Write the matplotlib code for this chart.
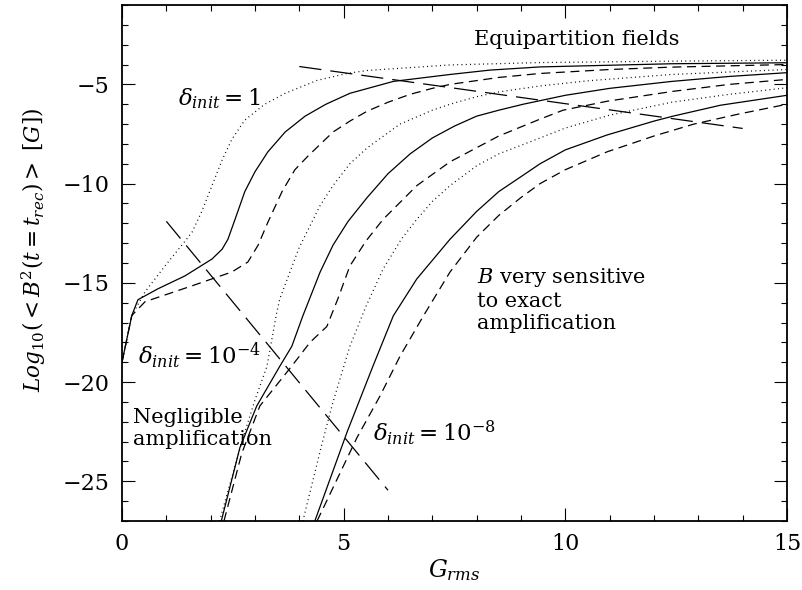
import matplotlib
matplotlib.use("Agg")
import matplotlib.pyplot as plt
from matplotlib.ticker import MultipleLocator

plt.rcParams['font.family'] = ['DejaVu Serif']
plt.rcParams['mathtext.fontset'] = 'dejavuserif'
plt.rcParams['lines.scale_dashes'] = False

# delta_init = 1
x_dot1 = [0, 0.22, 0.52, 0.97, 1.35, 1.58, 1.8, 2.03, 2.26, 2.48, 2.77, 3.22, 3.68, 4.4, 5.07, 5.53, 7.4, 9.43, 12.4, 15]
y_dot1 = [-19, -16.65, -15.45, -14.15, -13.1, -12.45, -11.4, -10.1, -8.8, -7.76, -6.8, -6.0, -5.45, -4.8, -4.45, -4.3, -4.02, -3.9, -3.83, -3.78]
x_sol1 = [0, 0.22, 0.36, 0.81, 1.42, 2.03, 2.26, 2.39, 2.55, 2.77, 3.0, 3.29, 3.68, 4.13, 4.6, 5.14, 6.12, 7.4, 8.3, 9.43, 12.4, 15]
y_sol1 = [-19, -16.65, -15.85, -15.3, -14.65, -13.8, -13.3, -12.8, -11.8, -10.4, -9.4, -8.4, -7.4, -6.6, -6.0, -5.45, -4.85, -4.5, -4.28, -4.12, -3.96, -3.91]
x_das1 = [0, 0.22, 0.52, 1.58, 2.48, 2.84, 3.07, 3.29, 3.61, 3.9, 4.2, 4.76, 5.14, 5.53, 6.0, 6.5, 7.0, 7.4, 8.5, 9.43, 11.0, 12.4, 15]
y_das1 = [-19, -16.65, -15.95, -15.15, -14.45, -13.95, -13.1, -11.95, -10.4, -9.3, -8.6, -7.4, -6.85, -6.35, -5.9, -5.5, -5.2, -5.0, -4.65, -4.45, -4.25, -4.13, -4.0]

# delta_init = 1e-4
x_dot2 = [2.2, 2.73, 3.0, 3.27, 3.49, 3.56, 4.0, 4.47, 4.76, 5.14, 5.53, 6.27, 7.0, 7.4, 8.0, 8.5, 9.43, 10.5, 12.4, 15]
y_dot2 = [-27, -22.8, -20.9, -19.2, -16.5, -15.8, -13.2, -11.1, -10.1, -9.0, -8.2, -7.0, -6.3, -6.0, -5.62, -5.38, -5.08, -4.82, -4.5, -4.25]
x_sol2 = [2.24, 2.66, 3.04, 3.56, 3.83, 4.08, 4.47, 4.76, 5.1, 5.53, 6.0, 6.5, 7.0, 7.5, 8.0, 8.5, 9.05, 10.0, 11.0, 12.4, 13.7, 15]
y_sol2 = [-27, -23.3, -21.2, -19.2, -18.2, -16.66, -14.45, -13.1, -11.9, -10.7, -9.5, -8.5, -7.7, -7.1, -6.6, -6.3, -6.0, -5.55, -5.2, -4.85, -4.6, -4.41]
x_das2 = [2.3, 2.7, 3.11, 3.72, 4.0, 4.24, 4.62, 4.87, 5.14, 5.5, 5.89, 6.65, 7.4, 8.5, 9.43, 9.95, 10.94, 12.43, 13.7, 15]
y_das2 = [-27, -23.6, -21.2, -19.5, -18.7, -18.0, -17.2, -15.8, -14.15, -12.9, -11.8, -10.1, -8.9, -7.6, -6.75, -6.3, -5.85, -5.35, -5.0, -4.75]

# delta_init = 1e-8
x_dot3 = [4.08, 4.5, 4.76, 5.14, 5.5, 5.89, 6.3, 6.65, 7.0, 7.4, 8.0, 8.5, 9.43, 10.0, 11.0, 12.4, 13.7, 15]
y_dot3 = [-27, -23.2, -21.0, -18.2, -16.2, -14.3, -12.8, -11.8, -10.9, -10.1, -9.1, -8.5, -7.7, -7.2, -6.55, -5.9, -5.5, -5.17]
x_sol3 = [4.35, 5.08, 5.66, 6.12, 6.65, 7.4, 8.0, 8.5, 9.0, 9.43, 10.0, 10.94, 12.0, 12.43, 13.5, 15]
y_sol3 = [-27, -22.5, -19.2, -16.66, -14.8, -12.8, -11.4, -10.4, -9.65, -9.0, -8.3, -7.55, -6.85, -6.6, -6.05, -5.55]
x_das3 = [4.4, 5.3, 5.82, 6.27, 6.8, 7.4, 8.0, 8.5, 9.0, 9.43, 10.0, 10.94, 12.0, 12.9, 13.9, 15]
y_das3 = [-27, -22.8, -20.7, -18.7, -16.66, -14.45, -12.7, -11.6, -10.7, -10.0, -9.3, -8.4, -7.6, -7.0, -6.5, -6.0]

# long-dashed boundary lines
x_equi = [4.0, 14.0]
y_equi = [-4.1, -7.22]
x_negl = [1.0, 6.0]
y_negl = [-11.9, -25.45]

fig = plt.figure(figsize=(8.03, 5.90), dpi=100)
ax = fig.add_axes([122/803, 1 - 521/590, 665/803, 516/590])

lw = 0.9
dot = (0, (0.7, 2.4))
dash = (0, (6.5, 4.0))
longdash = (0, (16, 6.5))

for xs, ys, ls in [(x_dot1, y_dot1, dot), (x_sol1, y_sol1, '-'), (x_das1, y_das1, dash),
                   (x_dot2, y_dot2, dot), (x_sol2, y_sol2, '-'), (x_das2, y_das2, dash),
                   (x_dot3, y_dot3, dot), (x_sol3, y_sol3, '-'), (x_das3, y_das3, dash)]:
    ax.plot(xs, ys, color='black', lw=lw, linestyle=ls)

ax.plot(x_equi, y_equi, color='black', lw=lw, linestyle=longdash)
ax.plot(x_negl, y_negl, color='black', lw=lw, linestyle=longdash)

ax.set_xlim(0, 15)
ax.set_ylim(-27, -1)
ax.xaxis.set_major_locator(MultipleLocator(5))
ax.xaxis.set_minor_locator(MultipleLocator(1))
ax.yaxis.set_major_locator(MultipleLocator(5))
ax.yaxis.set_minor_locator(MultipleLocator(1))
ax.tick_params(which='both', direction='in', top=True, right=True, width=0.8, labelsize=16, pad=9)
ax.tick_params(which='major', length=9.5)
ax.tick_params(which='minor', length=4.5)
for sp in ax.spines.values():
    sp.set_linewidth(1.3)

ax.set_xlabel(r'$G_{rms}$', fontsize=17)
ax.set_ylabel(r'$Log_{10}(<B^2(t=t_{rec})>\ [G])$', fontsize=15.5)
ax.xaxis.set_label_coords(0.5, -0.07)
ax.yaxis.set_label_coords(-0.112, 0.525)

ax.text(10.26, -2.74, 'Equipartition fields', fontsize=15, ha='center', va='center')
ax.text(1.27, -5.7, r'$\delta_{init}=1$', fontsize=16.5, ha='left', va='center')
ax.text(0.37, -18.67, r'$\delta_{init}=10^{-4}$', fontsize=16.5, ha='left', va='center')
ax.text(5.66, -22.54, r'$\delta_{init}=10^{-8}$', fontsize=16.5, ha='left', va='center')
ax.text(0.25, -22.34, 'Negligible\namplification', fontsize=15, ha='left', va='center')
ax.text(8.0, -15.85, '$B$ very sensitive\nto exact\namplification', fontsize=15, ha='left', va='center')

fig.savefig('out.png', dpi=100)
